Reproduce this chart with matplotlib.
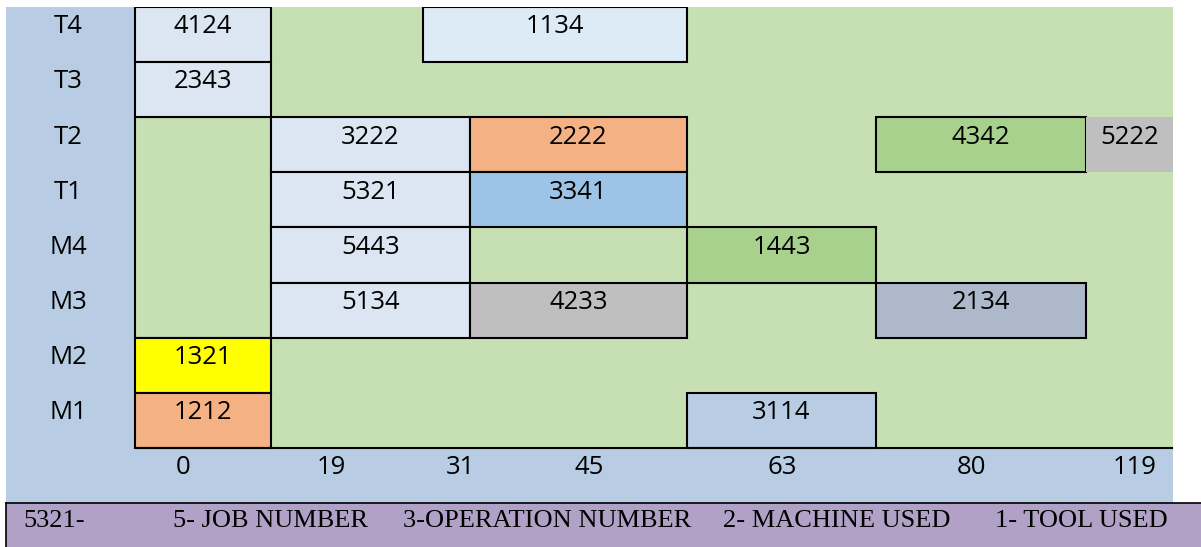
import matplotlib.pyplot as plt

# ---- data ----------------------------------------------------------------
rows = ['M1', 'M2', 'M3', 'M4', 'T1', 'T2', 'T3', 'T4']          # bottom -> top
time_labels = ['0', '19', '31', '45', '63', '80', '119']
time_label_x = [183, 331, 460, 589, 782, 972, 1135]

# operations: (code, row, start, end, colour, framed)
ops_code = ['4124', '1134', '2343', '3222', '2222', '4342', '5222', '5321',
            '3341', '5443', '1443', '5134', '4233', '2134', '1321', '1212',
            '3114']
ops_row = ['T4', 'T4', 'T3', 'T2', 'T2', 'T2', 'T2', 'T1',
           'T1', 'M4', 'M4', 'M3', 'M3', 'M3', 'M2', 'M1',
           'M1']
ops_start = [135, 423, 135, 271, 470, 876, 1086, 271,
             470, 271, 687, 271, 470, 876, 135, 135,
             687]
ops_end = [271, 687, 271, 470, 687, 1086, 1173, 470,
           687, 470, 876, 470, 687, 1086, 271, 271,
           876]
ops_color = ['#dce6f2', '#ddebf7', '#dce6f2', '#dce6f2', '#f4b183', '#a9d18e',
             '#bfbfbf', '#dce6f2', '#9dc3e6', '#dce6f2', '#a9d18e', '#dce6f2',
             '#bfbfbf', '#adb9ca', '#ffff00', '#f4b183', '#b8cce4']
ops_framed = [True] * 6 + [False] + [True] * 10

legend_items = ['5321-', '5- JOB NUMBER', '3-OPERATION NUMBER',
                '2- MACHINE USED', '1- TOOL USED']
legend_x = [23, 173, 403, 723, 995]

BLUE = '#b8cce4'
GREEN = '#c6e0b4'
PURPLE = '#b2a1c7'
LW = 1.5
FS = 18.5
W, H = 1201, 547

fig = plt.figure(figsize=(W / 100, H / 100), dpi=100)
plt.rcParams['font.family'] = ['Open Sans', 'DejaVu Sans']

# ---- main gantt block ------------------------------------------------------
ax = fig.add_axes([6 / W, (H - 503) / H, (1173 - 6) / W, (503 - 7) / H])
ax.set_facecolor(BLUE)
ax.set_xlim(6, 1173)
ax.set_ylim(-1, len(rows))
for s in ax.spines.values():
    s.set_visible(False)
ax.set_xticks([])
ax.set_yticks([])

x0_green = 135
ax.barh(0, 1173 - x0_green, left=x0_green, height=len(rows), align='edge',
        color=GREEN, lw=0)
# merged empty cell in the first column (T2 .. M3)
ax.barh(rows.index('M3'), 271 - x0_green, left=x0_green, height=4,
        align='edge', color=GREEN, edgecolor='black', lw=LW)

dy = 0.14  # labels sit a little above the row centre
for code, r, a, b, c, fr in zip(ops_code, ops_row, ops_start, ops_end,
                                ops_color, ops_framed):
    y = rows.index(r)
    ax.barh(y, b - a, left=a, height=1, align='edge', color=c,
            edgecolor='black' if fr else 'none', lw=LW if fr else 0)
    ax.text((a + b) / 2, y + 0.5 + dy, code, ha='center', va='center',
            fontsize=FS)

ax.plot([x0_green, 1173], [0, 0], color='black', lw=LW, solid_capstyle='butt')

for i, r in enumerate(rows):
    ax.text(68, i + 0.5 + dy, r, ha='center', va='center', fontsize=FS)
for lab, x in zip(time_labels, time_label_x):
    ax.text(x, -0.5 + dy, lab, ha='center', va='center', fontsize=FS)

# ---- key bar at the bottom -------------------------------------------------
lax = fig.add_axes([6 / W, 0, (W - 6) / W, 44 / H])
lax.set_facecolor(PURPLE)
lax.set_xlim(6, W)
lax.set_ylim(0, 1)
lax.set_xticks([])
lax.set_yticks([])
for k, s in lax.spines.items():
    s.set_visible(k in ('top', 'left'))
    s.set_linewidth(1.2)
for lab, x in zip(legend_items, legend_x):
    lax.text(x, 0.58, lab, ha='left', va='center', fontsize=19,
             family='Liberation Serif')

fig.savefig('out.png', dpi=100)
